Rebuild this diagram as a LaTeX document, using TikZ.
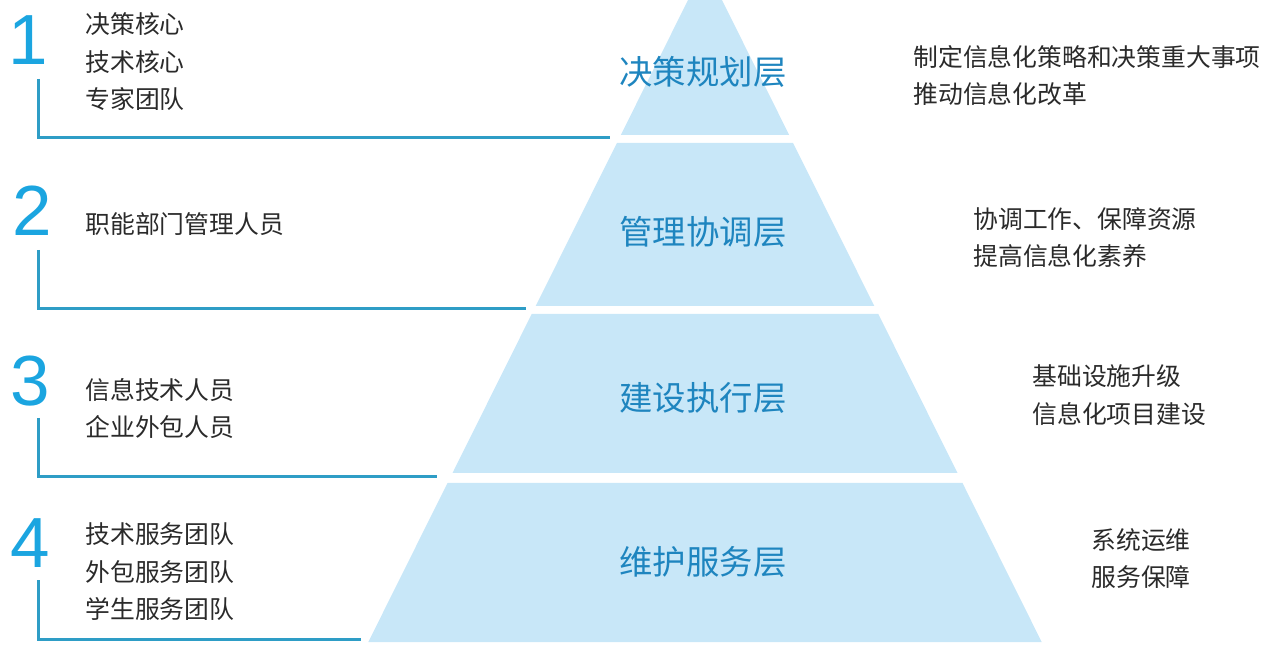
\documentclass[tikz,border=0pt]{standalone}
\usepackage{fontspec}
\setmainfont{Noto Sans CJK SC}
\newfontfamily\numfont{Liberation Sans}
\usepackage{tikz}
\usetikzlibrary{positioning}
\definecolor{layerfill}{HTML}{C8E7F8}
\definecolor{numblue}{HTML}{1BA5E0}
\definecolor{guideblue}{HTML}{2E9DC6}
\definecolor{titleblue}{HTML}{1E85BF}
\definecolor{textgray}{HTML}{2A2A2A}
\tikzset{
  layer/.style={fill=layerfill},
  title/.style={text=titleblue, inner sep=0pt, font=\fontsize{16.7}{20}\selectfont},
  num/.style={text=numblue, inner sep=0pt, font=\numfont\fontsize{35.5}{36}\selectfont},
  who/.style={text=textgray, inner sep=0pt, anchor=west, align=left, font=\fontsize{12.4}{18.75}\selectfont},
  task/.style={who},
  guide/.style={draw=guideblue, line width=1.5pt}
}

\begin{document}
\begin{tikzpicture}[x=0.5pt, y=-0.5pt]
    \clip (0,0) rectangle (1280,657);
    % pyramid layers
    \fill[layer] (705,-34) -- (789.2,135) -- (620.8,135) -- cycle;
    \fill[layer] (616.9,143) -- (793.1,143) -- (874.3,306) -- (535.7,306) -- cycle;
    \fill[layer] (531.7,314) -- (878.3,314) -- (957.5,473) -- (452.5,473) -- cycle;
    \fill[layer] (447.5,483) -- (962.5,483) -- (1041.7,642) -- (368.3,642) -- cycle;
    \node(t1) [title] at (703,72)  {决策规划层};
    \node(t2) [title] at (703,232) {管理协调层};
    \node(t3) [title] at (703,398) {建设执行层};
    \node(t4) [title] at (703,562) {维护服务层};
    % numbers and who
    \node(n1) [num] at (28,40)  {1};
    \node(n2) [num] at (32,211) {2};
    \node(n3) [num] at (30,381) {3};
    \node(n4) [num] at (30,543) {4};
    \node(w1) [who] at (85,62)    {决策核心\\技术核心\\专家团队};
    \node(w2) [who] at (85,224)   {职能部门管理人员};
    \node(w3) [who] at (85,408.5) {信息技术人员\\企业外包人员};
    \node(w4) [who] at (85,572)   {技术服务团队\\外包服务团队\\学生服务团队};
    % tasks
    \node(k1) [task] at (913,75.5)  {制定信息化策略和决策重大事项\\推动信息化改革};
    \node(k2) [task] at (973,237.5) {协调工作、保障资源\\提高信息化素养};
    \node(k3) [task] at (1032,395)  {基础设施升级\\信息化项目建设};
    \node(k4) [task] at (1091,558.5){系统运维\\服务保障};
    % guide lines
    \coordinate(a1) at (38,79);  \coordinate(b1) at (610,138);
    \coordinate(a2) at (38,250); \coordinate(b2) at (526,309);
    \coordinate(a3) at (38,418); \coordinate(b3) at (437,477);
    \coordinate(a4) at (38,580); \coordinate(b4) at (361,639);
    \draw[guide] (a1) |- (b1);
    \draw[guide] (a2) |- (b2);
    \draw[guide] (a3) |- (b3);
    \draw[guide] (a4) |- (b4);
  \end{tikzpicture}
\end{document}
